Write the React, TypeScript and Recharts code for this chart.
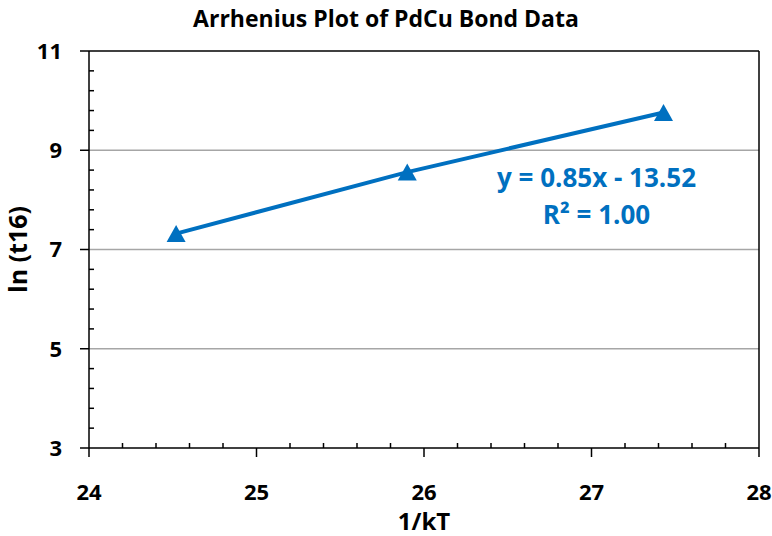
import React from 'react';
import { ScatterChart, Scatter, XAxis, YAxis, CartesianGrid, ReferenceLine, ReferenceDot } from 'recharts';

const kT = [24.52, 25.9, 27.43];
const lnT16 = [7.32, 8.56, 9.76];
const xTicks = [24, 25, 26, 27, 28];
const yTicks = [3, 5, 7, 9, 11];
const xMinor = [24.2, 24.4, 24.6, 24.8, 25.2, 25.4, 25.6, 25.8, 26.2, 26.4, 26.6, 26.8, 27.2, 27.4, 27.6, 27.8];
const yMinor = [3.4, 3.8, 4.2, 4.6, 5.4, 5.8, 6.2, 6.6, 7.4, 7.8, 8.2, 8.6, 9.4, 9.8, 10.2, 10.6];
const eqText = 'y = 0.85x - 13.52';
const r2Text = 'R\u00B2 = 1.00';

const data = kT.map((x, i) => ({ x, y: lnT16[i] }));
const allX = [...xTicks, ...xMinor].sort((a, b) => a - b);
const allY = [...yTicks, ...yMinor].sort((a, b) => a - b);

const BLUE = '#0070C0';
const FONT = '"Open Sans", sans-serif';
const MAJOR = 9;
const MINOR = 5;
const X_MARGIN = 27;
const Y_MARGIN = 18;

const Tri = (props: any) => {
  const { cx, cy } = props;
  const w = 19, h = 17;
  return (
    <polygon
      points={`${cx},${cy - h / 2} ${cx + w / 2},${cy + h / 2} ${cx - w / 2},${cy + h / 2}`}
      fill={BLUE}
    />
  );
};

const XTick = (props: any) => {
  const { x, y, payload } = props;
  const v = payload.value;
  const major = xTicks.includes(v);
  const axisY = y - MAJOR - X_MARGIN;
  return (
    <g>
      <line x1={x} x2={x} y1={axisY} y2={major ? axisY + MAJOR : axisY - MINOR} stroke="#000" strokeWidth={1.5} />
      {major && (
        <text x={x} y={y} dy="0.71em" textAnchor="middle" fill="#000" fontSize={22} fontWeight={700} fontFamily={FONT}>
          {v}
        </text>
      )}
    </g>
  );
};

const YTick = (props: any) => {
  const { x, y, payload } = props;
  const v = payload.value;
  const major = yTicks.includes(v);
  const axisX = x + MAJOR + Y_MARGIN;
  return (
    <g>
      <line x1={axisX} x2={major ? axisX - MAJOR : axisX + MINOR} y1={y} y2={y} stroke="#000" strokeWidth={1.5} />
      {major && (
        <text x={x} y={y} dy="0.355em" textAnchor="end" fill="#000" fontSize={22} fontWeight={700} fontFamily={FONT}>
          {v}
        </text>
      )}
    </g>
  );
};

export default function App() {
  return (
    <div style={{ position: 'absolute', left: 0, top: 0, width: 772, height: 536, background: '#fff' }}>
      <div style={{ position: 'absolute', left: 0, top: 2, width: 772, textAlign: 'center', fontFamily: FONT, fontWeight: 700, fontSize: 23, lineHeight: '32px', color: '#000' }}>
        Arrhenius Plot of PdCu Bond Data
      </div>
      <ScatterChart width={772} height={536} margin={{ top: 51, right: 13, bottom: 0, left: 0 }}>
        <CartesianGrid horizontal vertical={false} stroke="#A6A6A6" strokeWidth={1.5} horizontalValues={[5, 7, 9]} />
        <XAxis
          type="number"
          dataKey="x"
          domain={[24, 28]}
          ticks={allX}
          interval={0}
          height={88}
          tickSize={MAJOR}
          tickMargin={X_MARGIN}
          axisLine={{ stroke: '#000', strokeWidth: 1.5 }}
          tickLine={false}
          tick={<XTick />}
          label={{ value: '1/kT', position: 'insideBottom', offset: 6, fill: '#000', fontSize: 24, fontWeight: 700, fontFamily: FONT }}
        />
        <YAxis
          type="number"
          dataKey="y"
          domain={[3, 11]}
          ticks={allY}
          interval={0}
          width={89}
          tickSize={MAJOR}
          tickMargin={Y_MARGIN}
          axisLine={{ stroke: '#000', strokeWidth: 1.5 }}
          tickLine={false}
          tick={<YTick />}
          label={{ value: 'ln (t16)', angle: -90, position: 'insideLeft', offset: 18, fill: '#000', fontSize: 25, fontWeight: 700, fontFamily: FONT, style: { textAnchor: 'middle' } }}
        />
        <ReferenceLine y={11} stroke="#000" strokeWidth={1.5} />
        <ReferenceLine x={28} stroke="#000" strokeWidth={1.5} />
        <Scatter
          data={data}
          shape={<Tri />}
          line={{ stroke: BLUE, strokeWidth: 4 }}
          lineType="joint"
          isAnimationActive={false}
        />
        <ReferenceDot x={27.03} y={8.44} r={1} fill="none" stroke="none" label={{ value: eqText, position: 'center', fill: BLUE, fontSize: 26, fontWeight: 700, fontFamily: FONT }} />
        <ReferenceDot x={27.03} y={7.69} r={1} fill="none" stroke="none" label={{ value: r2Text, position: 'center', fill: BLUE, fontSize: 26, fontWeight: 700, fontFamily: FONT }} />
      </ScatterChart>
    </div>
  );
}
